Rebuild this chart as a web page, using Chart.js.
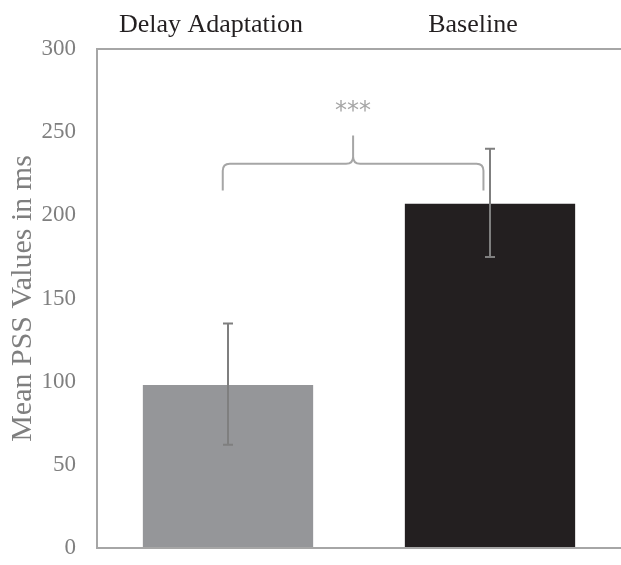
<!DOCTYPE html>
<html>
<head>
<meta charset="utf-8">
<script src="https://cdn.jsdelivr.net/npm/chart.js@4"></script>
<style>
  html, body { margin: 0; padding: 0; background: #fff; }
  #wrap { width: 621px; height: 565px; }
</style>
</head>
<body>
<div id="wrap"><canvas id="chart" width="621" height="565"></canvas></div>
<script>
// chart data
const categories = ["Delay Adaptation", "Baseline"];
const meanPss = [98, 207];
const errLow = [62, 175];
const errHigh = [135, 240];
const barColors = ["#959699", "#231f20"];
const yTicks = [0, 50, 100, 150, 200, 250, 300];

// significance brace (y values in ms)
const braceEnds = 215;
const braceLine = 231;
const braceTip = 248;
const starsY = 262;

const axisGrey = "#a6a6a6";

const errorBars = {
  id: "errorBars",
  afterDatasetsDraw(chart) {
    const { ctx, scales } = chart;
    const x = scales.x;
    const y = scales.y;
    ctx.save();
    ctx.strokeStyle = "#7f7f7f";
    ctx.lineWidth = 2;
    meanPss.forEach((v, i) => {
      const px = x.getPixelForValue(i);
      const top = y.getPixelForValue(errHigh[i]);
      const bot = y.getPixelForValue(errLow[i]);
      ctx.beginPath();
      ctx.moveTo(px, top);
      ctx.lineTo(px, bot);
      ctx.moveTo(px - 5, top);
      ctx.lineTo(px + 5, top);
      ctx.moveTo(px - 5, bot);
      ctx.lineTo(px + 5, bot);
      ctx.stroke();
    });
    ctx.restore();
  },
};

const brace = {
  id: "brace",
  afterDraw(chart) {
    const { ctx, scales } = chart;
    const x = scales.x;
    const y = scales.y;
    const left = x.getPixelForValue(-0.02);
    const right = x.getPixelForValue(0.975);
    const mid = (left + right) / 2;
    const yEnd = y.getPixelForValue(braceEnds);
    const yLine = y.getPixelForValue(braceLine);
    const yTip = y.getPixelForValue(braceTip);
    const r = 7;
    ctx.save();
    ctx.strokeStyle = "#a6a6a6";
    ctx.lineWidth = 2;
    ctx.beginPath();
    ctx.moveTo(left, yEnd);
    ctx.lineTo(left, yLine + r);
    ctx.quadraticCurveTo(left, yLine, left + r, yLine);
    ctx.lineTo(mid - r, yLine);
    ctx.quadraticCurveTo(mid, yLine, mid, yLine - r);
    ctx.lineTo(mid, yTip);
    ctx.moveTo(mid, yLine - r);
    ctx.quadraticCurveTo(mid, yLine, mid + r, yLine);
    ctx.lineTo(right - r, yLine);
    ctx.quadraticCurveTo(right, yLine, right, yLine + r);
    ctx.lineTo(right, yEnd);
    ctx.stroke();
    ctx.fillStyle = "#a6a6a6";
    ctx.font = "24px 'DejaVu Sans'";
    ctx.textAlign = "center";
    ctx.textBaseline = "middle";
    ctx.fillText("***", mid, y.getPixelForValue(starsY));
    ctx.restore();
  },
};

new Chart("chart", {
  type: "bar",
  data: {
    labels: categories,
    datasets: [
      {
        data: meanPss,
        backgroundColor: barColors,
        categoryPercentage: 0.65,
        barPercentage: 1,
      },
    ],
  },
  options: {
    responsive: false,
    animation: false,
    layout: { padding: { top: 0, right: 0, bottom: 17, left: 0 } },
    plugins: {
      legend: { display: false },
      tooltip: { enabled: false },
    },
    scales: {
      x: {
        position: "top",
        grid: { display: false, drawTicks: false },
        border: { color: axisGrey, width: 2 },
        ticks: {
          color: "#231f20",
          font: { family: "'Liberation Serif'", size: 26 },
          padding: 8,
          labelOffset: -17,
        },
        afterFit: (s) => { s.height = 49; },
      },
      y: {
        min: 0,
        max: 300,
        afterBuildTicks: (s) => { s.ticks = yTicks.map((v) => ({ value: v })); },
        grid: {
          drawTicks: false,
          color: (c) => (c.tick && c.tick.value === 0 ? axisGrey : "transparent"),
          lineWidth: 2,
        },
        border: { color: axisGrey, width: 2 },
        ticks: {
          color: "#7f7f7f",
          font: { family: "'Liberation Serif'", size: 23 },
          padding: 21,
        },
        title: {
          display: true,
          text: "Mean PSS Values in ms",
          color: "#7f7f7f",
          font: { family: "'Liberation Serif'", size: 30 },
          padding: { top: 5, bottom: 0 },
        },
        afterFit: (s) => {
          s.width = 97;
          s.paddingTop = 0;
          s.paddingBottom = 0;
        },
      },
    },
  },
  plugins: [errorBars, brace],
});
</script>
</body>
</html>
